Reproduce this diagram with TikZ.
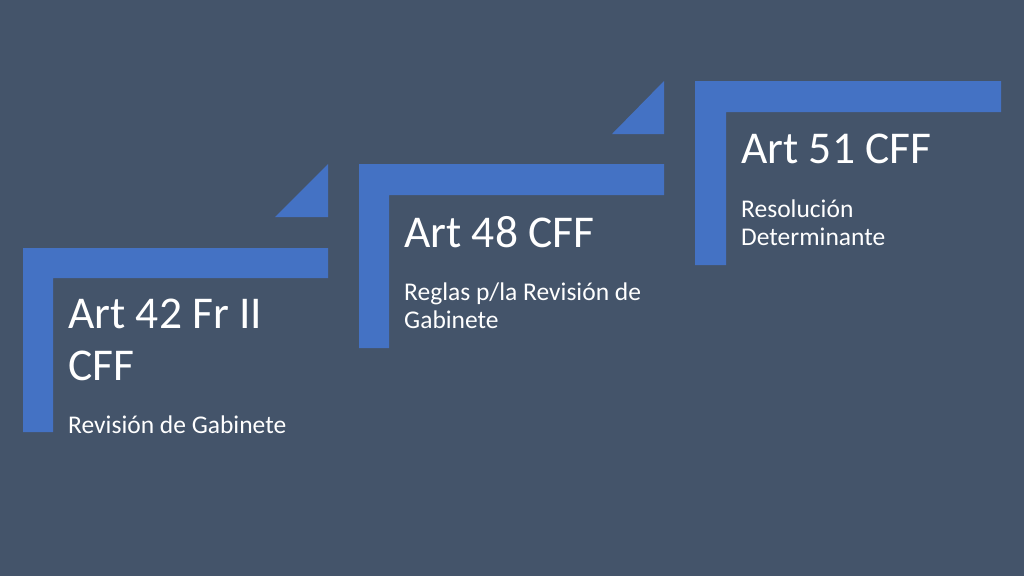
\documentclass[tikz,border=0pt]{standalone}
\usepackage{fontspec}
\setmainfont{Carlito}
\usepackage{tikz}
\usetikzlibrary{positioning}
\definecolor{slate}{HTML}{44546A}
\definecolor{stepblue}{HTML}{4472C4}
\tikzstyle{bar} = [fill=stepblue, draw=none]
\tikzstyle{heading} = [anchor=base west, inner sep=0pt, text=white, align=left, font=\fontsize{45.5}{52}\selectfont]
\tikzstyle{caption} = [anchor=base west, inner sep=0pt, text=white, align=left, font=\fontsize{25.5}{28}\selectfont]

\begin{document}
\begin{tikzpicture}[x=1pt,y=-1pt]
	% background
	\fill[slate] (0,0) rectangle (1024,576);
	\useasboundingbox (0,0) rectangle (1024,576);

	% first step
	\fill[bar] (23,248) -- (328,248) -- (328,278) -- (53,278) -- (53,432) -- (23,432) -- cycle;
	\fill[bar] (275,217) -- (328,217) -- (328,164) -- cycle;
	\node[heading] (art42) at (68,380) {Art 42 Fr II\\CFF};
	\node[caption] (rev42) at (68,433) {Revisión de Gabinete};

	% second step
	\fill[bar] (359,164) -- (664,164) -- (664,195) -- (389,195) -- (389,348) -- (359,348) -- cycle;
	\fill[bar] (612,134) -- (664,134) -- (664,81) -- cycle;
	\node[heading] (art48) at (404,247) {Art 48 CFF};
	\node[caption] (rev48) at (404,328) {Reglas p/la Revisión de\\Gabinete};

	% third step
	\fill[bar] (695,81) -- (1001,81) -- (1001,112) -- (726,112) -- (726,265) -- (695,265) -- cycle;
	\node[heading] (art51) at (741,163) {Art 51 CFF};
	\node[caption] (res51) at (741,245) {Resolución\\Determinante};
\end{tikzpicture}
\end{document}
